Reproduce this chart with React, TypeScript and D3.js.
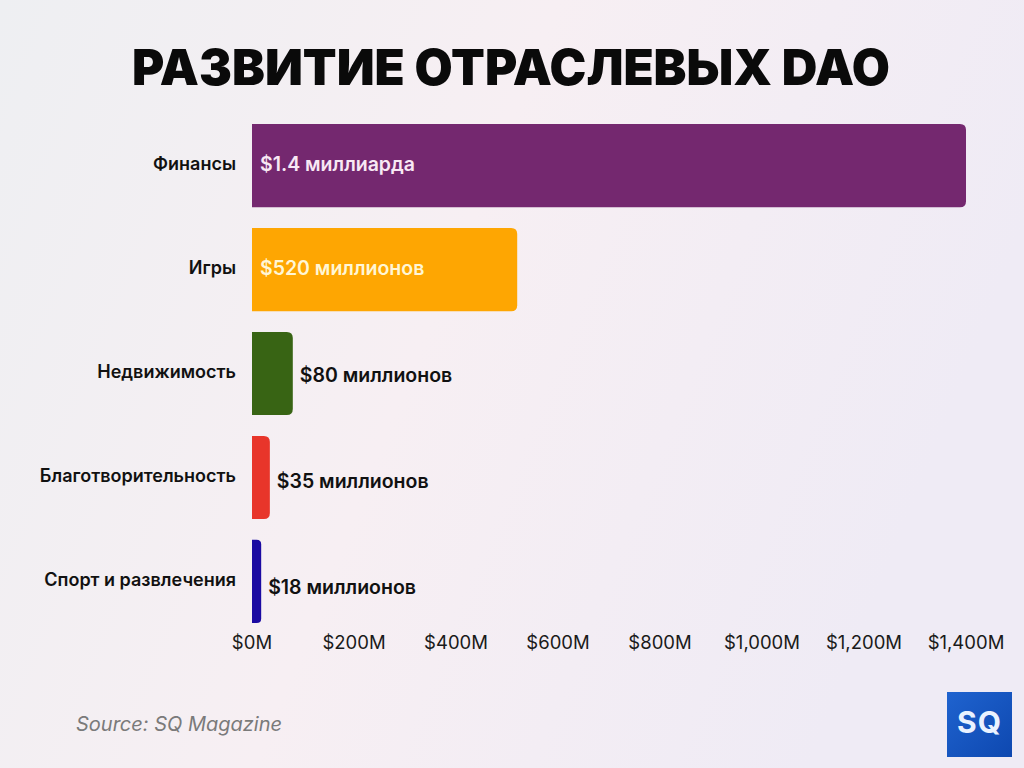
import React from "react";
import * as d3 from "d3";

const categories = ["Финансы", "Игры", "Недвижимость", "Благотворительность", "Спорт и развлечения"];
const values = [1400, 520, 80, 35, 18];
const valueLabels = ["$1.4 миллиарда", "$520 миллионов", "$80 миллионов", "$35 миллионов", "$18 миллионов"];
const barColors = ["#74286F", "#FEA602", "#386414", "#E8352A", "#1B0AA2"];
const insideLabelColors = ["#F8E8F4", "#FFF6D6"];
const ticks = [0, 200, 400, 600, 800, 1000, 1200, 1400];

const W = 1024;
const H = 768;
const left = 252;
const right = 966;
const top = 124;
const bottom = 623;

function barPath(x0: number, x1: number, y0: number, h: number, r: number) {
  const rr = Math.min(r, (x1 - x0) / 2, h / 2);
  return `M${x0},${y0}H${x1 - rr}Q${x1},${y0} ${x1},${y0 + rr}V${y0 + h - rr}Q${x1},${y0 + h} ${x1 - rr},${y0 + h}H${x0}Z`;
}

export default function App() {
  const x = d3.scaleLinear().domain([0, 1400]).range([left, right]);
  const y = d3.scaleBand<string>().domain(categories).range([top, bottom]).paddingInner(0.2).paddingOuter(0);
  const fmt = (v: number) => `$${d3.format(",")(v)}M`;
  const bh = y.bandwidth();
  return (
    <svg width={W} height={H} style={{ position: "absolute", left: 0, top: 0 }} fontFamily="Inter, sans-serif">
      <defs>
        <linearGradient id="bg" x1="0" y1="0" x2="1" y2="0.3">
          <stop offset="0" stopColor="#EEEFF2" />
          <stop offset="0.5" stopColor="#F7EFF3" />
          <stop offset="1" stopColor="#EFEBF5" />
        </linearGradient>
        <linearGradient id="logo" x1="0" y1="0" x2="1" y2="1">
          <stop offset="0" stopColor="#1F63CF" />
          <stop offset="1" stopColor="#0E48B0" />
        </linearGradient>
      </defs>
      <rect width={W} height={H} fill="url(#bg)" />
      <text x={511} y={85} textAnchor="middle" fontSize={50} fontWeight={900} fill="#0a0a0a" textLength={758} lengthAdjust="spacingAndGlyphs">
        РАЗВИТИЕ ОТРАСЛЕВЫХ DAO
      </text>
      {categories.map((c, i) => {
        const y0 = y(c)!;
        const x1 = x(values[i]);
        const inside = i < 2;
        return (
          <g key={c}>
            <path d={barPath(x(0), x1, y0, bh, 6)} fill={barColors[i]} />
            <text x={236} y={y0 + bh / 2} textAnchor="end" dominantBaseline="middle" fontSize={18} fontWeight={600} fill="#111">
              {c}
            </text>
            <text
              x={inside ? x(0) + 8 : x1 + 7}
              y={y0 + bh / 2 + (inside ? 0 : 3 + (i - 2) * 2)}
              dominantBaseline="middle"
              fontSize={19.5}
              fontWeight={600}
              fill={inside ? insideLabelColors[i] : "#111"}
            >
              {valueLabels[i]}
            </text>
          </g>
        );
      })}
      {ticks.map((t) => (
        <text key={t} x={x(t)} y={644} textAnchor="middle" dominantBaseline="middle" fontSize={18.5} fill="#1a1a1a">
          {fmt(t)}
        </text>
      ))}
      <text x={76} y={731} fontSize={20} fontStyle="italic" fill="#7a7a7a">
        Source: SQ Magazine
      </text>
      <rect x={947} y={692} width={65} height={65} fill="url(#logo)" />
      <text x={979.5} y={725} textAnchor="middle" dominantBaseline="middle" fontSize={30} fontWeight={700} fill="#EAF2FF" letterSpacing={1}>
        SQ
      </text>
    </svg>
  );
}
